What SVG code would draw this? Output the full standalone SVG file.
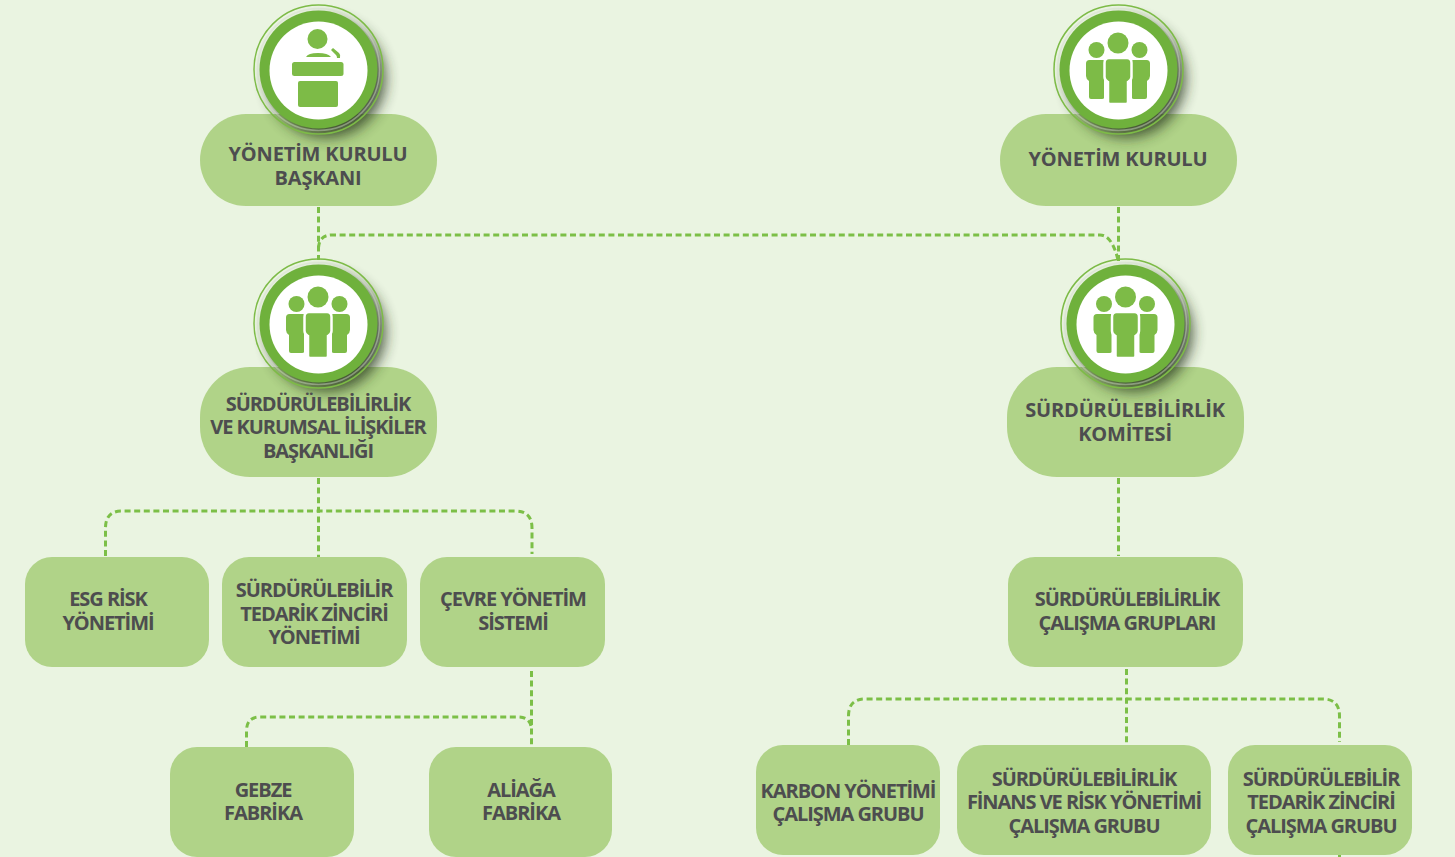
<svg xmlns="http://www.w3.org/2000/svg" width="1455" height="857" viewBox="0 0 1455 857">
<style>
.box{fill:#b0d388}
.t{font-family:"Open Sans","Liberation Sans",sans-serif;font-weight:700;font-size:20px;letter-spacing:-1.05px;fill:#4d4d4f;text-anchor:middle}
.w{letter-spacing:-.17px}
.c{fill:none;stroke:#7cbf47;stroke-width:3;stroke-dasharray:6 3.6}
.g{fill:#7dbb47}
</style>
<defs>
<filter id="sh" x="-40%" y="-40%" width="190%" height="190%"><feGaussianBlur stdDeviation="7"/></filter>
<g id="disk">
<circle cx="8" cy="9" r="59" fill="#26351a" opacity=".8" filter="url(#sh)"/>
<circle r="64.5" fill="none" stroke="#7dbb47" stroke-width="1.5"/>
<circle r="61" fill="none" stroke="#d3dccb" stroke-width="1.5" opacity=".45"/>
<circle r="59" fill="#6fb13c"/>
<circle r="49" cy="1" fill="#fff"/>
</g>
<g id="people" class="g">
<circle cx="0" cy="-26" r="10.500"/>
<circle cx="-21.500" cy="-19" r="8"/>
<circle cx="21.500" cy="-19" r="8"/>
<path d="M-28.500 -9H-14V29Q-14 30 -16 30H-27Q-29 30 -29 28V12Q-32 10 -32 7V-5.500Q-32 -9 -28.500 -9Z"/>
<path d="M28.500 -9H14V29Q14 30 16 30H27Q29 30 29 28V12Q32 10 32 7V-5.500Q32 -9 28.500 -9Z"/>
<path d="M-9 -11H9Q13.500 -11 13.500 -6V8Q13.500 11 10 13V33Q10 35 8 35H-8Q-10 35 -10 33V13Q-13.500 11 -13.500 8V-6Q-13.500 -11 -9 -11Z" stroke="#fff" stroke-width="2.500"/>
</g>
</defs>
<rect width="1455" height="857" fill="#eaf4e1"/>

<g id="connectors">
<path class="c" d="M318.500 207V260"/>
<path class="c" d="M318.500 248Q319 235 332 235H1100Q1112 235 1118 260"/>
<path class="c" d="M1118.500 207V262"/>
<path class="c" d="M318.500 478V557"/>
<path class="c" d="M105.500 556V528Q105.500 511 122 511H515Q532 511 532 528V554"/>
<path class="c" d="M1118.500 478V556"/>
<path class="c" d="M531.500 671V745"/>
<path class="c" d="M246.500 747V731Q246.500 717 260 717H518Q531.500 717 531.500 731"/>
<path class="c" d="M1126.500 669V745"/>
<path class="c" d="M848.500 745V716Q848.500 699 865 699H1323Q1339.500 699 1339.500 716V742"/>
<path class="c" d="M1339.500 855V857"/>
</g>

<g id="n-baskan">
<rect class="box" x="200" y="114" width="237" height="92" rx="46"/>
<use href="#disk" x="318.500" y="69.500"/>
<g class="g">
<circle cx="317.500" cy="39" r="10"/>
<path d="M306 57Q308 53 318 53Q328 53 331 57Z"/>
<path d="M331 50l2-2 6 5q2 2 1 5h-3q0-2-1-3z"/>
<rect x="292" y="62" width="51.500" height="14" rx="2.500"/>
<rect x="298" y="81" width="40" height="26" rx="2"/>
</g>
<text class="t w" x="318" y="161">YÖNETİM KURULU</text>
<text class="t w" x="318" y="185">BAŞKANI</text>
</g>

<g id="n-kurul">
<rect class="box" x="1000" y="114" width="237" height="92" rx="46"/>
<use href="#disk" x="1118.500" y="69.500"/>
<use href="#people" x="1118" y="69"/>
<text class="t w" x="1118" y="166">YÖNETİM KURULU</text>
</g>

<g id="n-baskanlik">
<rect class="box" x="200" y="367" width="237" height="110" rx="50"/>
<use href="#disk" x="318.500" y="323.500"/>
<use href="#people" x="318" y="323"/>
<text class="t" x="318" y="411">SÜRDÜRÜLEBİLİRLİK</text>
<text class="t" x="318" y="434">VE KURUMSAL İLİŞKİLER</text>
<text class="t" x="318" y="458">BAŞKANLIĞI</text>
</g>

<g id="n-komite">
<rect class="box" x="1007" y="367" width="237" height="110" rx="50"/>
<use href="#disk" x="1125.500" y="323.500"/>
<use href="#people" x="1125.500" y="323"/>
<text class="t w" x="1125" y="417">SÜRDÜRÜLEBİLİRLİK</text>
<text class="t w" x="1125" y="441">KOMİTESİ</text>
</g>

<g id="n-esg">
<rect class="box" x="25" y="557" width="184" height="110" rx="27"/>
<text class="t" x="108" y="606">ESG RİSK</text>
<text class="t" x="108" y="630">YÖNETİMİ</text>
</g>
<g id="n-tedarik">
<rect class="box" x="222" y="557" width="185" height="110" rx="27"/>
<text class="t" x="314" y="597">SÜRDÜRÜLEBİLİR</text>
<text class="t" x="314" y="621">TEDARİK ZİNCİRİ</text>
<text class="t" x="314" y="644">YÖNETİMİ</text>
</g>
<g id="n-cevre">
<rect class="box" x="420" y="557" width="185" height="110" rx="27"/>
<text class="t" x="513" y="606">ÇEVRE YÖNETİM</text>
<text class="t" x="513" y="630">SİSTEMİ</text>
</g>
<g id="n-calisma">
<rect class="box" x="1008" y="557" width="235" height="110" rx="27"/>
<text class="t" x="1127" y="606">SÜRDÜRÜLEBİLİRLİK</text>
<text class="t" x="1127" y="630">ÇALIŞMA GRUPLARI</text>
</g>
<g id="n-gebze">
<rect class="box" x="170" y="747" width="184" height="110" rx="27"/>
<text class="t" x="263" y="797">GEBZE</text>
<text class="t" x="263" y="820">FABRİKA</text>
</g>
<g id="n-aliaga">
<rect class="box" x="429" y="747" width="183" height="110" rx="27"/>
<text class="t" x="521" y="797">ALİAĞA</text>
<text class="t" x="521" y="820">FABRİKA</text>
</g>
<g id="n-karbon">
<rect class="box" x="756" y="745" width="184" height="110" rx="27"/>
<text class="t" x="848" y="798">KARBON YÖNETİMİ</text>
<text class="t" x="848" y="821">ÇALIŞMA GRUBU</text>
</g>
<g id="n-finans">
<rect class="box" x="957" y="745" width="254" height="110" rx="27"/>
<text class="t" x="1084" y="786">SÜRDÜRÜLEBİLİRLİK</text>
<text class="t" x="1084" y="809">FİNANS VE RİSK YÖNETİMİ</text>
<text class="t" x="1084" y="833">ÇALIŞMA GRUBU</text>
</g>
<g id="n-tedarik-grup">
<rect class="box" x="1228" y="745" width="184" height="110" rx="27"/>
<text class="t" x="1321" y="786">SÜRDÜRÜLEBİLİR</text>
<text class="t" x="1321" y="809">TEDARİK ZİNCİRİ</text>
<text class="t" x="1321" y="833">ÇALIŞMA GRUBU</text>
</g>
</svg>
